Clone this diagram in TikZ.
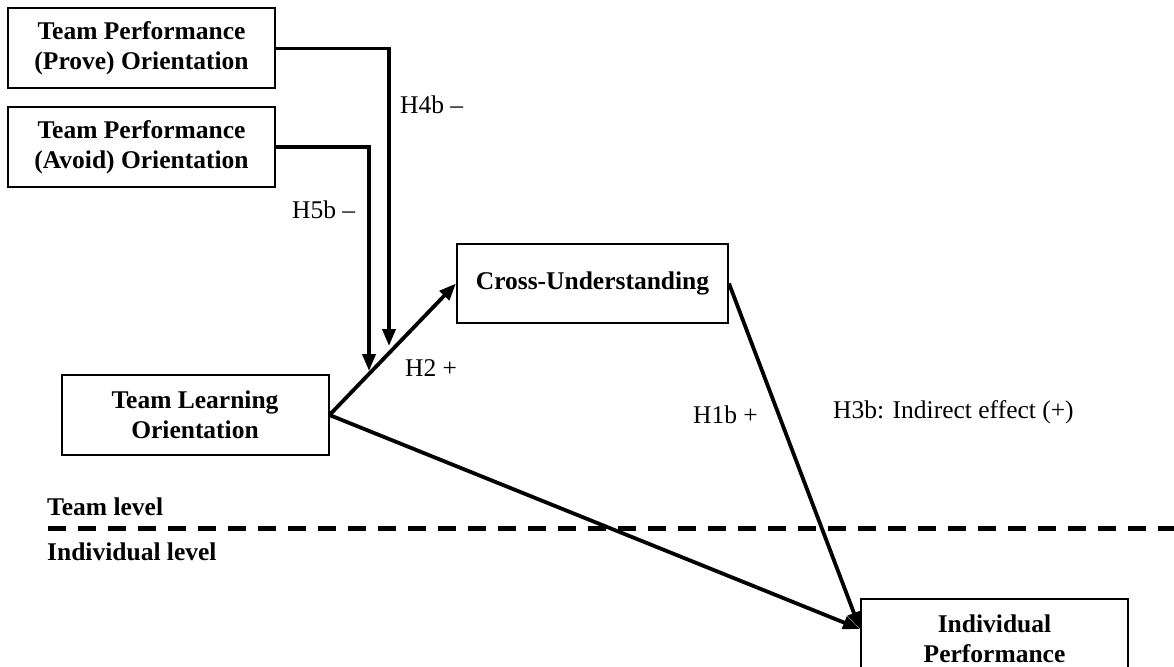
\documentclass[tikz,border=0pt]{standalone}
\usepackage{fontspec}
\setmainfont{Liberation Serif}
\usetikzlibrary{arrows.meta, calc}
\newcommand{\diafont}{\fontsize{25.5}{30}\selectfont}
\tikzset{
  cbox/.style={draw, line width=2pt, align=center, font=\diafont\bfseries,
               minimum width=267pt, minimum height=80pt, inner sep=4pt},
  arr/.style={-{Triangle[length=17pt,width=13pt]}, line width=3.8pt},
  hlab/.style={anchor=west, inner sep=0pt, font=\diafont},
  lvl/.style={anchor=west, inner sep=0pt, font=\diafont\bfseries},
  sepline/.style={line width=5pt, dash pattern=on 18pt off 12pt},
}

\begin{document}
\begin{tikzpicture}[x=1pt, y=-1pt]
  \clip (0,0) rectangle (1174,666);

  %% Team level constructs
  \node[cbox] (prove) at (141.5,48.5) {Team Performance\\(Prove) Orientation};
  \node[cbox] (avoid) at (141.5,147) {Team Performance\\(Avoid) Orientation};
  \node[cbox] (learn) at (195,415) {Team Learning\\Orientation};
  \node[cbox, minimum width=271pt, minimum height=79pt] (cross) at (592.5,283.5) {Cross-Understanding};

  %% Individual level
  \node[cbox] (indiv) at (994.5,639) {Individual\\Performance};

  % moderators point onto the H2 path
  \coordinate (h4tip) at (389,346);
  \coordinate (h5tip) at (369,371);
  \coordinate (ipin) at ([yshift=10pt]indiv.west);

  \draw[arr] (prove.east) -| (h4tip);
  \draw[arr] (avoid.east) -| (h5tip);
  \draw[arr] (learn.east) -- (cross.west);
  \draw[arr] (learn.east) -- (ipin);
  \draw[arr] (cross.east) -- (ipin);

  % hypothesis labels
  \node[hlab] (h4b) at (400,105) {H4b --};
  \node[hlab] (h5b) at (292,210) {H5b --};
  \node[hlab] (h2) at (405,368) {H2 +};
  \node[hlab] (h1b) at (693,415) {H1b +};
  \node[hlab] (h3b) at (833,412) {H3b: Indirect effect (+)};

  %% Level separator
  \node[lvl] (team) at (47,507) {Team level};
  \node[lvl] (ind) at (47,552) {Individual level};
  \draw[sepline] (48,528) -- (1174,528);

\end{tikzpicture}
\end{document}
